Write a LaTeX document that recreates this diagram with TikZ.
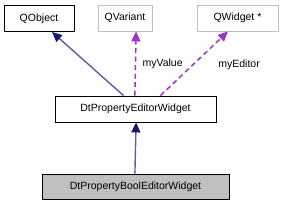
\documentclass[tikz,border=0pt]{standalone}
\usepackage{fontspec}
\setmainfont{Liberation Sans}
\usepackage{xcolor}
\usetikzlibrary{arrows.meta, positioning, calc}

\definecolor{edgeblue}{HTML}{191970}
\definecolor{usepurple}{HTML}{9A32CD}
\definecolor{boxgray}{HTML}{BFBFBF}

\begin{document}
\begin{tikzpicture}[x=1pt, y=-1pt,
    cls/.style={draw=black, rectangle, inner sep=0pt, minimum height=26pt, line width=0.9pt, font=\fontsize{10.5}{12}\selectfont},
    ext/.style={cls, draw=boxgray},
    inherit/.style={draw=edgeblue!70, line width=1.4pt, -{Triangle[length=10pt, width=9pt, color=edgeblue]}},
    member/.style={draw=usepurple, dash pattern=on 5pt off 3.5pt, line width=1.5pt, -{Triangle[length=10pt, width=9pt, color=usepurple]}},
    lbl/.style={text=black, font=\fontsize{10.5}{12}\selectfont}]
    \useasboundingbox (0,0) rectangle (285,205);

    % =========================================================
    % CLASS BOXES
    % =========================================================
    \node[cls, minimum width=70pt] (qobject) at (39,18.5) {QObject};
    \node[ext, minimum width=54pt] (qvariant) at (125,18) {QVariant};
    \node[ext, minimum width=81pt] (qwidget) at (237.5,18) {QWidget *};
    \node[cls, minimum width=161pt] (editor) at (135.5,109) {DtPropertyEditorWidget};
    \node[cls, fill=boxgray, minimum width=187pt, minimum height=25pt] (booleditor) at (135.5,186.5) {DtPropertyBoolEditorWidget};

    % =========================================================
    % INHERITANCE
    % =========================================================
    \draw[inherit] ([xshift=-12pt]editor.north) -- ([xshift=13pt]qobject.south);
    \draw[inherit] ([xshift=-0.6pt]booleditor.north) -- ([xshift=0.6pt]editor.south);

    % =========================================================
    % MEMBERS
    % =========================================================
    \draw[member] ([xshift=-0.6pt]editor.north) -- ([xshift=0.6pt]editor.north |- qvariant.south)
        node[lbl, pos=0.5, anchor=west, xshift=3pt] {myValue};
    \draw[member] ([xshift=25pt]editor.north) -- ([xshift=-9.5pt]qwidget.south)
        node[lbl, pos=0.5, anchor=west, xshift=20pt, yshift=-1pt] {myEditor};
\end{tikzpicture}
\end{document}
